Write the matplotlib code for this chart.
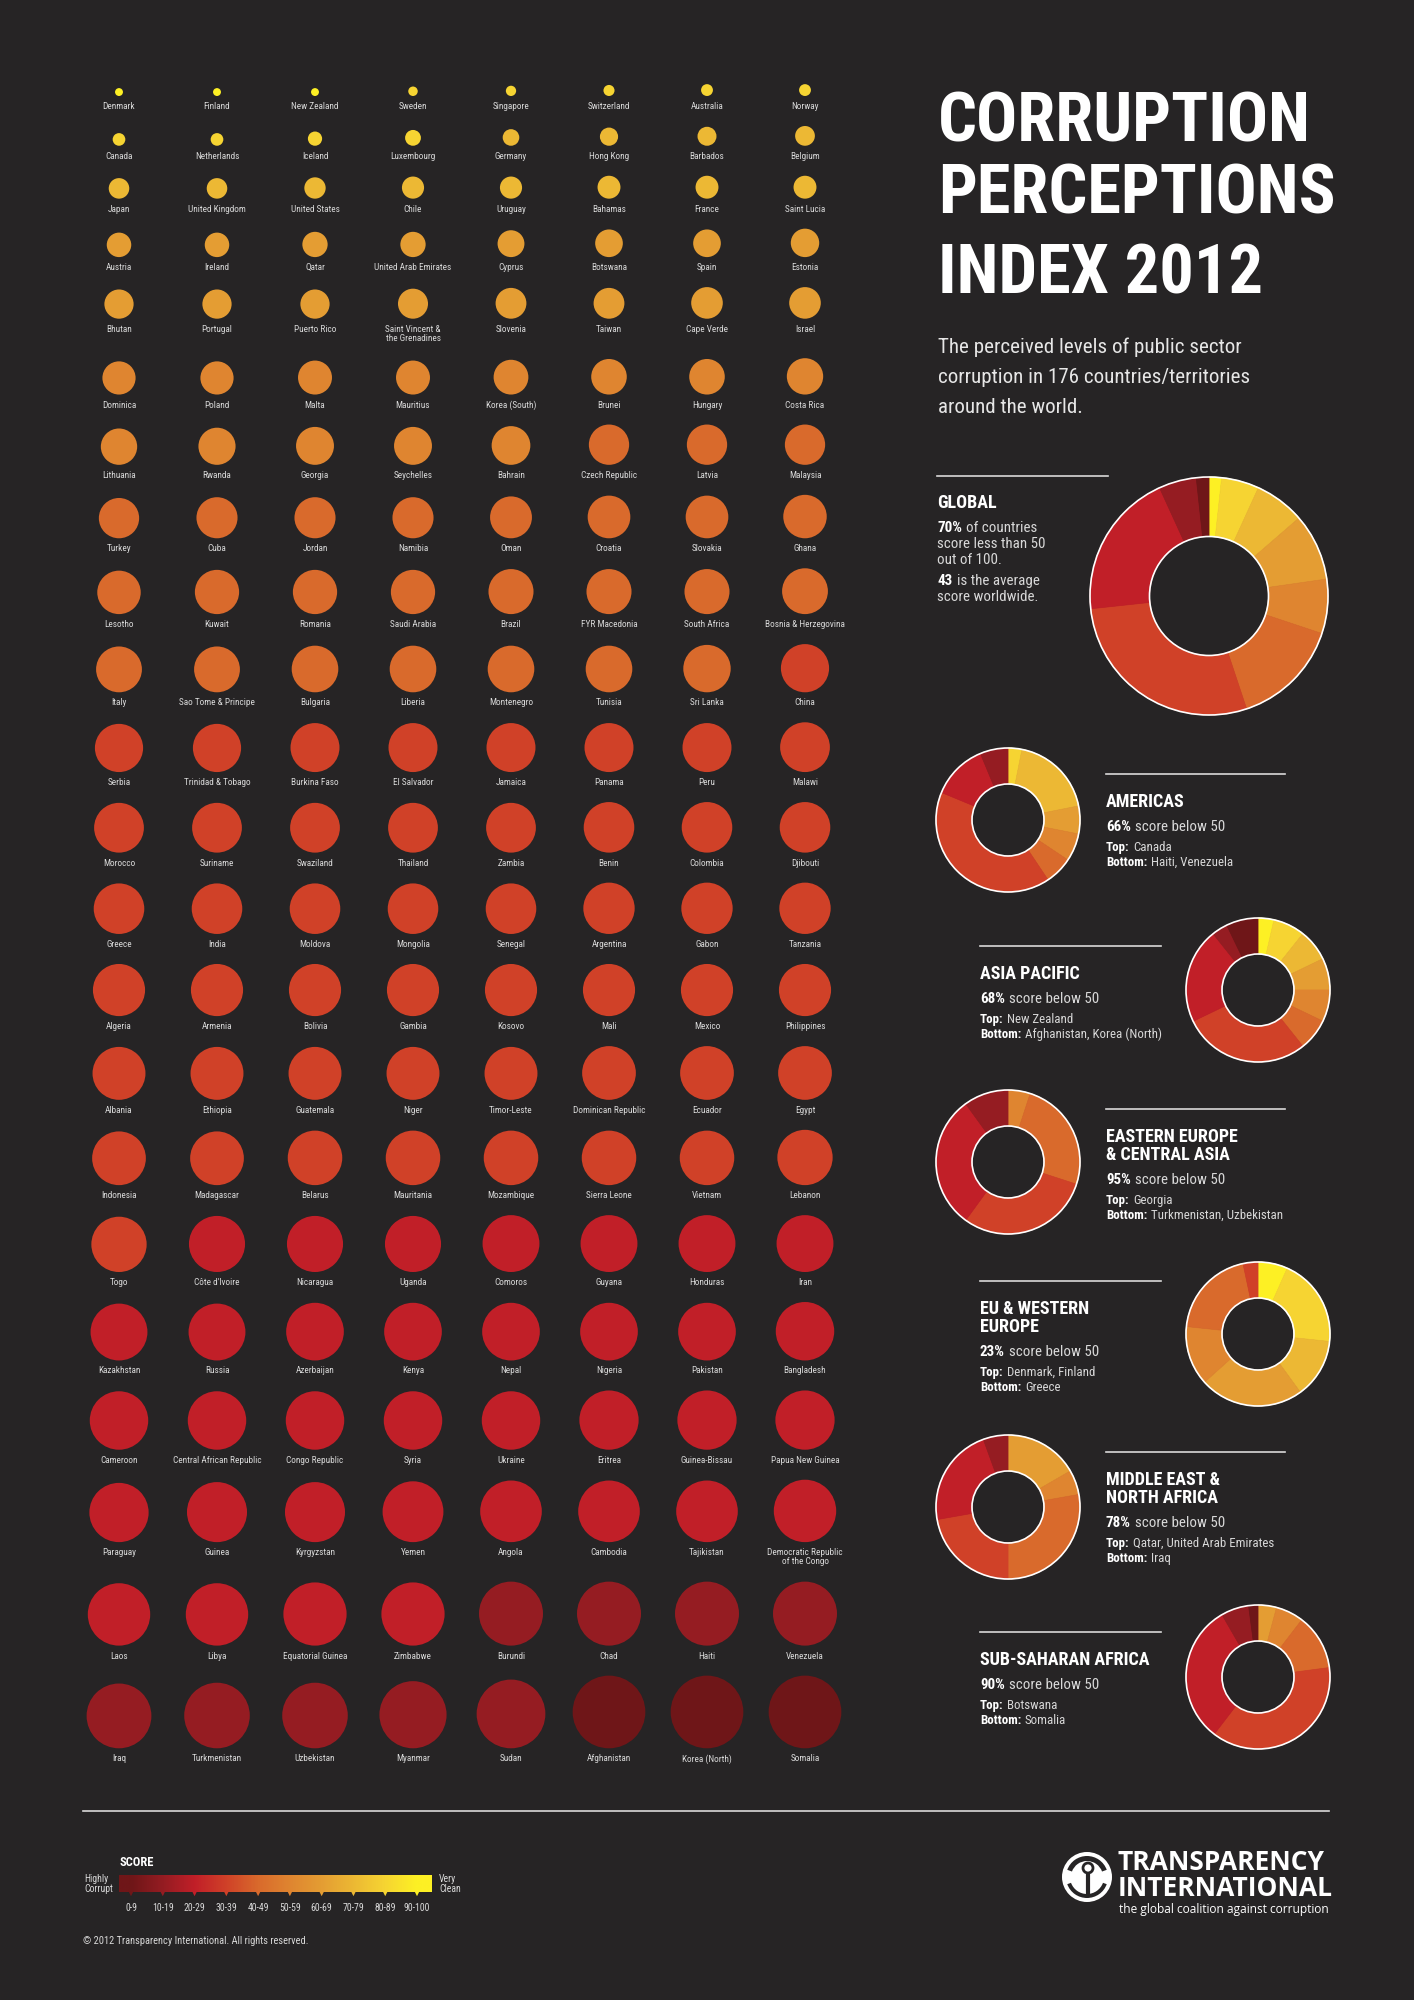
import matplotlib
matplotlib.use('Agg')
import matplotlib.pyplot as plt
from matplotlib import font_manager
from matplotlib.patches import Circle, Wedge
from matplotlib.colors import LinearSegmentedColormap
import numpy as np

# countries in reading order (8 per row), CPI 2012 scores
countries = [
    'Denmark', 'Finland', 'New Zealand', 'Sweden', 'Singapore', 'Switzerland', 'Australia', 'Norway',
    'Canada', 'Netherlands', 'Iceland', 'Luxembourg', 'Germany', 'Hong Kong', 'Barbados', 'Belgium',
    'Japan', 'United Kingdom', 'United States', 'Chile', 'Uruguay', 'Bahamas', 'France', 'Saint Lucia',
    'Austria', 'Ireland', 'Qatar', 'United Arab Emirates', 'Cyprus', 'Botswana', 'Spain', 'Estonia',
    'Bhutan', 'Portugal', 'Puerto Rico', 'Saint Vincent &\nthe Grenadines', 'Slovenia', 'Taiwan', 'Cape Verde', 'Israel',
    'Dominica', 'Poland', 'Malta', 'Mauritius', 'Korea (South)', 'Brunei', 'Hungary', 'Costa Rica',
    'Lithuania', 'Rwanda', 'Georgia', 'Seychelles', 'Bahrain', 'Czech Republic', 'Latvia', 'Malaysia',
    'Turkey', 'Cuba', 'Jordan', 'Namibia', 'Oman', 'Croatia', 'Slovakia', 'Ghana',
    'Lesotho', 'Kuwait', 'Romania', 'Saudi Arabia', 'Brazil', 'FYR Macedonia', 'South Africa', 'Bosnia & Herzegovina',
    'Italy', 'Sao Tome & Principe', 'Bulgaria', 'Liberia', 'Montenegro', 'Tunisia', 'Sri Lanka', 'China',
    'Serbia', 'Trinidad & Tobago', 'Burkina Faso', 'El Salvador', 'Jamaica', 'Panama', 'Peru', 'Malawi',
    'Morocco', 'Suriname', 'Swaziland', 'Thailand', 'Zambia', 'Benin', 'Colombia', 'Djibouti',
    'Greece', 'India', 'Moldova', 'Mongolia', 'Senegal', 'Argentina', 'Gabon', 'Tanzania',
    'Algeria', 'Armenia', 'Bolivia', 'Gambia', 'Kosovo', 'Mali', 'Mexico', 'Philippines',
    'Albania', 'Ethiopia', 'Guatemala', 'Niger', 'Timor-Leste', 'Dominican Republic', 'Ecuador', 'Egypt',
    'Indonesia', 'Madagascar', 'Belarus', 'Mauritania', 'Mozambique', 'Sierra Leone', 'Vietnam', 'Lebanon',
    'Togo', "Côte d'Ivoire", 'Nicaragua', 'Uganda', 'Comoros', 'Guyana', 'Honduras', 'Iran',
    'Kazakhstan', 'Russia', 'Azerbaijan', 'Kenya', 'Nepal', 'Nigeria', 'Pakistan', 'Bangladesh',
    'Cameroon', 'Central African Republic', 'Congo Republic', 'Syria', 'Ukraine', 'Eritrea', 'Guinea-Bissau', 'Papua New Guinea',
    'Paraguay', 'Guinea', 'Kyrgyzstan', 'Yemen', 'Angola', 'Cambodia', 'Tajikistan', 'Democratic Republic\nof the Congo',
    'Laos', 'Libya', 'Equatorial Guinea', 'Zimbabwe', 'Burundi', 'Chad', 'Haiti', 'Venezuela',
    'Iraq', 'Turkmenistan', 'Uzbekistan', 'Myanmar', 'Sudan', 'Afghanistan', 'Korea (North)', 'Somalia',
]
scores = [
    90, 90, 90, 88, 87, 86, 85, 85,
    84, 84, 82, 80, 79, 77, 76, 75,
    74, 74, 73, 72, 72, 71, 71, 71,
    69, 69, 68, 68, 66, 65, 65, 64,
    63, 63, 63, 62, 61, 61, 60, 60,
    58, 58, 57, 57, 56, 55, 55, 54,
    54, 53, 52, 52, 51, 49, 49, 49,
    49, 48, 48, 48, 47, 46, 46, 45,
    45, 44, 44, 44, 43, 43, 43, 42,
    42, 42, 41, 41, 41, 41, 40, 39,
    39, 39, 38, 38, 38, 38, 38, 37,
    37, 37, 37, 37, 37, 36, 36, 36,
    36, 36, 36, 36, 36, 35, 35, 35,
    34, 34, 34, 34, 34, 34, 34, 34,
    33, 33, 33, 33, 33, 32, 32, 32,
    32, 32, 31, 31, 31, 31, 31, 30,
    30, 29, 29, 29, 28, 28, 28, 28,
    28, 28, 27, 27, 27, 27, 27, 26,
    26, 26, 26, 26, 26, 25, 25, 25,
    25, 24, 24, 23, 22, 22, 22, 21,
    21, 21, 20, 20, 19, 19, 19, 19,
    18, 17, 17, 15, 13, 8, 8, 8,
]

bracket_labels = ['0-9', '10-19', '20-29', '30-39', '40-49', '50-59', '60-69', '70-79', '80-89', '90-100']
bracket_colors = ['#6f1618', '#951c22', '#c11f28', '#d04128', '#d96a2c', '#df8530',
                  '#e49d33', '#ecb834', '#f6d432', '#fdf024']

# number of countries per score bracket (0-9 ... 90-100) in each region
region_names = [['AMERICAS'], ['ASIA PACIFIC'], ['EASTERN EUROPE', '& CENTRAL ASIA'],
                ['EU & WESTERN', 'EUROPE'], ['MIDDLE EAST &', 'NORTH AFRICA'], ['SUB-SAHARAN AFRICA']]
region_pct = ['66%', '68%', '95%', '23%', '78%', '90%']
region_top = ['Canada', 'New Zealand', 'Georgia', 'Denmark, Finland', 'Qatar, United Arab Emirates', 'Botswana']
region_bottom = ['Haiti, Venezuela', 'Afghanistan, Korea (North)', 'Turkmenistan, Uzbekistan',
                 'Greece', 'Iraq', 'Somalia']
americas_counts = [0, 2, 4, 13, 2, 2, 2, 6, 1, 0]
asia_counts = [2, 1, 6, 8, 2, 2, 2, 2, 2, 1]
eca_counts = [0, 2, 6, 6, 5, 1, 0, 0, 0, 0]
eu_counts = [0, 0, 0, 1, 6, 4, 7, 4, 6, 2]
mena_counts = [0, 1, 4, 4, 5, 1, 3, 0, 0, 0]
ssa_counts = [1, 3, 15, 18, 6, 3, 2, 0, 0, 0]
region_counts = [americas_counts, asia_counts, eca_counts, eu_counts, mena_counts, ssa_counts]

BG = '#262425'
BODY = '#d8d8d8'

# pick the narrowest font that is installed
available = {f.name for f in font_manager.fontManager.ttflist}
NARROW = 'DejaVu Sans'
for cand in ['Liberation Sans Narrow', 'Roboto Condensed', 'Open Sans Condensed', 'DejaVu Sans']:
    if cand in available:
        NARROW = cand
        break
LOGO = 'Open Sans' if 'Open Sans' in available else 'DejaVu Sans'
plt.rcParams['font.family'] = [NARROW, 'DejaVu Sans']
plt.rcParams['font.stretch'] = 'condensed'

fig = plt.figure(figsize=(14.14, 20), dpi=100, facecolor=BG)
ax = fig.add_axes([0, 0, 1, 1])
ax.set_facecolor(BG)
ax.set_xlim(0, 1414)
ax.set_ylim(2000, 0)
ax.axis('off')
renderer = fig.canvas.get_renderer()

scores_arr = np.array(scores)
bracket_idx = np.minimum(scores_arr // 10, 9)
diam = 0.79 * (100 - scores_arr)

# ---- bubble grid ----
ncol = 8
col_x = 119 + 98 * np.arange(ncol)
bottom = 96
extra = 0
for r in range(len(scores) // ncol):
    ids = np.arange(r * ncol, (r + 1) * ncol)
    if r > 0:
        bottom += 30 + extra + diam[ids].max()
    nlines = 1
    for c, i in enumerate(ids):
        rad = diam[i] / 2
        ax.add_patch(Circle((col_x[c], bottom - rad), rad, facecolor=bracket_colors[bracket_idx[i]],
                            edgecolor='none'))
        ax.text(col_x[c], bottom + 6, countries[i], ha='center', va='top', fontsize=6.7,
                color=BODY, multialignment='center', linespacing=1.0)
        nlines = max(nlines, countries[i].count('\n') + 1)
    extra = 9.5 * (nlines - 1)

# ---- title ----
title_lines = ['CORRUPTION', 'PERCEPTIONS', 'INDEX 2012']
title_y = [142, 213, 293]
tt = []
for s, y in zip(title_lines, title_y):
    tt.append(ax.text(938, y, s, fontsize=50, fontweight='bold', color='white', va='baseline'))
w = tt[1].get_window_extent(renderer).width
tsize = min(56, 50 * 398 / w)
for t in tt:
    t.set_fontsize(tsize)

sub_lines = ['The perceived levels of public sector', 'corruption in 176 countries/territories',
             'around the world.']
st = []
for k, s in enumerate(sub_lines):
    st.append(ax.text(938, 353 + 30 * k, s, fontsize=18, color='#e6e6e6', va='baseline'))
w = st[1].get_window_extent(renderer).width
ssize = min(19, 18 * 312 / w)
for t in st:
    t.set_fontsize(ssize)


def rich(x, y, parts, size):
    for txt, bold in parts:
        t = ax.text(x, y, txt, fontsize=size, fontweight='bold' if bold else 'normal',
                    color='white' if bold else BODY, va='baseline')
        x += t.get_window_extent(renderer).width + (size * 0.4 if bold else 0)


def donut(cx, cy, R, counts):
    vals = counts[::-1]
    cols = bracket_colors[::-1]
    keep = [k for k, v in enumerate(vals) if v > 0]
    wedges, _ = ax.pie([vals[k] for k in keep], colors=[cols[k] for k in keep], center=(cx, cy),
                       radius=R, startangle=-90, counterclock=True, frame=True,
                       wedgeprops=dict(width=R * 0.5, linewidth=0.6))
    for wd in wedges:
        wd.set_edgecolor(wd.get_facecolor())
    ax.add_patch(Circle((cx, cy), R, fill=False, edgecolor='white', linewidth=1.2))
    ax.add_patch(Circle((cx, cy), R * 0.5, fill=False, edgecolor='white', linewidth=1.2))


# ---- global ----
global_counts = np.bincount(bracket_idx, minlength=10).tolist()
ax.plot([937, 1108], [476, 476], color='#d9d9d9', lw=1.2)
ax.text(937, 508, 'GLOBAL', fontsize=13, fontweight='bold', color='white', va='baseline')
rich(937, 532, [('70%', True), ('of countries', False)], 10.8)
ax.text(937, 548, 'score less than 50', fontsize=10.8, color=BODY, va='baseline')
ax.text(937, 564, 'out of 100.', fontsize=10.8, color=BODY, va='baseline')
rich(937, 585, [('43', True), ('is the average', False)], 10.8)
ax.text(937, 601, 'score worldwide.', fontsize=10.8, color=BODY, va='baseline')
donut(1209, 596, 119, global_counts)

# ---- regions ----
donut_y = [820, 990, 1162, 1334, 1507, 1677]
line_y = [774, 946, 1109, 1281, 1452, 1632]
for k in range(6):
    if k % 2 == 0:
        tx, lx2, dx = 1106, 1285, 1008
    else:
        tx, lx2, dx = 980, 1161, 1258
    ax.plot([tx, lx2], [line_y[k], line_y[k]], color='#d9d9d9', lw=1.2)
    y = line_y[k] + 33
    for j, s in enumerate(region_names[k]):
        ax.text(tx, y + 18 * j, s, fontsize=13, fontweight='bold', color='white', va='baseline')
    y += 18 * (len(region_names[k]) - 1) + 24
    rich(tx, y, [(region_pct[k], True), ('score below 50', False)], 10.8)
    rich(tx, y + 20, [('Top:', True), (region_top[k], False)], 9.3)
    rich(tx, y + 35, [('Bottom:', True), (region_bottom[k], False)], 9.3)
    donut(dx, donut_y[k], 72, region_counts[k])

# ---- bottom rule, legend ----
ax.plot([83, 1329], [1811, 1811], color='#d9d9d9', lw=1.2)
ax.text(119, 1866, 'SCORE', fontsize=9, fontweight='bold', color='white', va='baseline')
tick_x = np.linspace(131, 417, 10)
pos = [0] + list((tick_x - 119) / (432 - 119)) + [1]
cmap = LinearSegmentedColormap.from_list('cpi', list(zip(pos, [bracket_colors[0]] + bracket_colors + [bracket_colors[-1]])))
ax.imshow(np.linspace(0, 1, 400)[None, :], extent=[119, 432, 1892, 1875], cmap=cmap, aspect='auto', zorder=2)
ax.scatter(tick_x, np.full(10, 1894), marker='v', s=10, c=bracket_colors, zorder=3, linewidths=0)
for xk, lab in zip(tick_x, bracket_labels):
    ax.text(xk, 1911, lab, fontsize=7, color=BODY, ha='center', va='baseline')
ax.text(84, 1884, 'Highly\nCorrupt', fontsize=7, color=BODY, va='center', linespacing=0.95)
ax.text(439, 1884, 'Very\nClean', fontsize=7, color=BODY, va='center', linespacing=0.95)
ax.text(83, 1944, '\u00a9 2012 Transparency International. All rights reserved.', fontsize=7.5,
        color=BODY, va='baseline')

# ---- logo ----
lx, ly = 1087, 1877
ax.add_patch(Circle((lx, ly), 25, facecolor='white', edgecolor='none'))
ax.add_patch(Wedge((lx, ly), 21, 200, 340, width=5, facecolor=BG, edgecolor='none'))
ax.add_patch(Wedge((lx, ly), 21, 20, 160, width=4, facecolor=BG, edgecolor='none'))
ax.add_patch(Circle((lx + 1, ly - 9), 5, facecolor='white', edgecolor=BG, linewidth=2))
ax.plot([lx + 1, lx + 1], [ly - 3, ly + 18], color=BG, lw=3, solid_capstyle='butt')
ax.text(1118, 1870, 'TRANSPARENCY', fontsize=19, fontweight='bold', color='white', va='baseline',
        family=LOGO, stretch='normal')
ax.text(1118, 1896, 'INTERNATIONAL', fontsize=19, fontweight='bold', color='white', va='baseline',
        family=LOGO, stretch='normal')
ax.text(1119, 1913, 'the global coalition against corruption', fontsize=8.6, color='white', va='baseline',
        family=LOGO, stretch='normal')

ax.set_xlim(0, 1414)
ax.set_ylim(2000, 0)
ax.set_aspect('auto')
fig.savefig('out.png', dpi=100, facecolor=BG)
